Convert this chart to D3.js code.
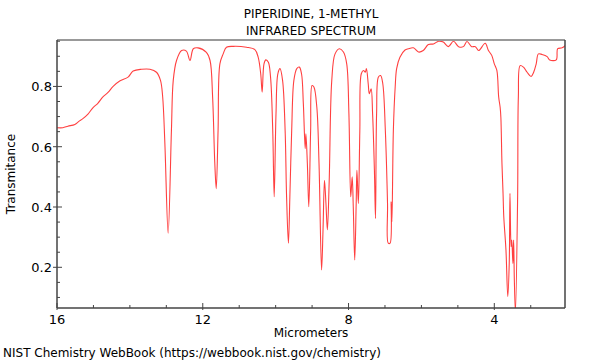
<html>
<head>
<style>
  body { margin: 0; background: #fff; }
  text { font-family: "DejaVu Sans", sans-serif; }
</style>
</head>
<body>
<script type="text/javascript" src="https://cdn.jsdelivr.net/npm/d3@7"></script>
<script type="text/javascript">

// spectrum: wavelength (micrometers) and transmitance
var microns = [16.00, 15.84, 15.70, 15.51, 15.40, 15.29, 15.15, 15.01, 14.88, 14.74, 14.60, 14.46, 14.28, 14.05, 13.91, 13.68, 13.45, 13.27, 13.16, 13.10, 13.04,
  12.95, 12.86, 12.81, 12.72, 12.58, 12.45, 12.35, 12.26, 12.13, 11.90, 11.80, 11.73, 11.67, 11.63, 11.58, 11.53,
  11.44, 11.35, 11.16, 10.80, 10.57, 10.48, 10.41, 10.37, 10.32, 10.27, 10.20, 10.14, 10.08, 10.04, 9.99, 9.94,
  9.88, 9.81, 9.74, 9.70, 9.65, 9.61, 9.56, 9.50, 9.42, 9.35, 9.29, 9.24, 9.19, 9.17, 9.13, 9.09,
  9.04, 9.00, 8.95, 8.87, 8.81, 8.74, 8.70, 8.66, 8.62, 8.58, 8.53, 8.46, 8.37, 8.25, 8.14, 8.05,
  7.99, 7.94, 7.90, 7.87, 7.83, 7.79, 7.77, 7.73, 7.69, 7.65, 7.59, 7.54, 7.51, 7.46, 7.43, 7.38,
  7.34, 7.29, 7.26, 7.23, 7.18, 7.12, 7.06, 6.99, 6.93, 6.91, 6.86, 6.83, 6.81, 6.77, 6.72, 6.68,
  6.59, 6.45, 6.36, 6.22, 6.08, 5.95, 5.81, 5.67, 5.53, 5.40, 5.26, 5.12, 4.98, 4.85, 4.75, 4.62,
  4.52, 4.43, 4.25, 4.16, 4.07, 4.00, 3.93, 3.88, 3.84, 3.82, 3.79, 3.76, 3.74, 3.68, 3.63, 3.59,
  3.57, 3.54, 3.52, 3.49, 3.47, 3.45, 3.42, 3.36, 3.34, 3.29, 3.20, 3.10, 2.99, 2.92, 2.85, 2.79,
  2.69, 2.55, 2.48, 2.30, 2.26, 2.14, 2.05];
var transmitance = [0.663, 0.663, 0.668, 0.674, 0.684, 0.693, 0.708, 0.730, 0.744, 0.765, 0.780, 0.800, 0.818, 0.831, 0.851, 0.857, 0.857, 0.847, 0.820, 0.765, 0.611,
  0.313, 0.654, 0.820, 0.886, 0.919, 0.917, 0.886, 0.925, 0.928, 0.913, 0.886, 0.765, 0.545, 0.461, 0.654, 0.875,
  0.908, 0.930, 0.933, 0.930, 0.922, 0.897, 0.842, 0.781, 0.875, 0.888, 0.880, 0.831, 0.654, 0.434, 0.711, 0.842,
  0.859, 0.820, 0.654, 0.434, 0.280, 0.434, 0.654, 0.820, 0.859, 0.864, 0.842, 0.743, 0.594, 0.643, 0.544, 0.401,
  0.654, 0.803, 0.798, 0.731, 0.545, 0.191, 0.324, 0.489, 0.412, 0.324, 0.489, 0.820, 0.908, 0.925, 0.914, 0.875,
  0.710, 0.434, 0.500, 0.401, 0.224, 0.412, 0.522, 0.412, 0.654, 0.842, 0.853, 0.847, 0.859, 0.809, 0.776, 0.792,
  0.710, 0.522, 0.362, 0.710, 0.831, 0.836, 0.809, 0.654, 0.412, 0.280, 0.280, 0.417, 0.351, 0.654, 0.798, 0.859,
  0.897, 0.921, 0.925, 0.928, 0.914, 0.919, 0.939, 0.941, 0.950, 0.947, 0.932, 0.950, 0.932, 0.932, 0.949, 0.932,
  0.932, 0.919, 0.943, 0.919, 0.903, 0.875, 0.853, 0.765, 0.731, 0.698, 0.544, 0.445, 0.368, 0.257, 0.103, 0.214,
  0.445, 0.268, 0.290, 0.213, 0.290, 0.158, 0.050, 0.434, 0.765, 0.869, 0.864, 0.847, 0.833, 0.847, 0.875, 0.908,
  0.906, 0.899, 0.888, 0.888, 0.925, 0.928, 0.936];

var xMajor = [16, 12, 8, 4];
var xMinor = [15, 14, 13, 11, 10, 9, 7, 6, 5, 3];
var yMajor = [0.2, 0.4, 0.6, 0.8];
var yMinor = [0.1, 0.15, 0.25, 0.3, 0.35, 0.45, 0.5, 0.55, 0.65, 0.7, 0.75, 0.85, 0.9, 0.95];

var pLeft = 57, pRight = 565, pTop = 40, pBottom = 308;

var svg = d3.select("body")
  .append("svg")
  .attr("width", 600)
  .attr("height", 360);

var x = d3.scaleLinear().domain([16, 2.06]).range([pLeft, pRight]);
var y = d3.scaleLinear().domain([0.065, 0.954]).range([pBottom, pTop]);

svg.append("clipPath").attr("id", "plot")
  .append("rect").attr("x", pLeft).attr("y", pTop).attr("width", pRight - pLeft).attr("height", pBottom - pTop);

var points = microns.map(function(m, i) { return [m, transmitance[i]]; });

svg.append("path")
  .datum(points)
  .attr("clip-path", "url(#plot)")
  .attr("fill", "none")
  .attr("stroke", "#ff0000")
  .attr("stroke-opacity", 0.75)
  .attr("stroke-width", 1.1)
  .attr("stroke-linejoin", "round")
  .attr("d", d3.line().curve(d3.curveCatmullRom.alpha(0.5))
    .x(function(d) { return x(d[0]); }).y(function(d) { return y(d[1]); }));

// frame
svg.append("line").attr("x1", pLeft).attr("x2", pRight).attr("y1", pTop).attr("y2", pTop)
  .attr("stroke", "#999").attr("stroke-width", 2);
svg.append("line").attr("x1", pRight).attr("x2", pRight).attr("y1", pTop).attr("y2", pBottom)
  .attr("stroke", "#444").attr("stroke-width", 1.5);
svg.append("line").attr("x1", pLeft).attr("x2", pRight).attr("y1", pBottom).attr("y2", pBottom)
  .attr("stroke", "#444").attr("stroke-width", 1.5);
svg.append("line").attr("x1", pLeft).attr("x2", pLeft).attr("y1", pTop).attr("y2", pBottom)
  .attr("stroke", "#444").attr("stroke-width", 1.5);

// x ticks
svg.selectAll(".xmaj").data(xMajor).enter().append("line")
  .attr("x1", x).attr("x2", x).attr("y1", pBottom - 5).attr("y2", pBottom + 2)
  .attr("stroke", "#444");
svg.selectAll(".xmin").data(xMinor).enter().append("line")
  .attr("x1", x).attr("x2", x).attr("y1", pBottom - 3).attr("y2", pBottom)
  .attr("stroke", "#444");
svg.selectAll(".xlab").data(xMajor).enter().append("text")
  .attr("x", x).attr("y", pBottom + 16)
  .attr("text-anchor", "middle").attr("font-size", 13)
  .text(function(d) { return d; });

// y ticks
svg.selectAll(".ymaj").data(yMajor).enter().append("line")
  .attr("x1", pLeft - 4).attr("x2", pLeft + 5).attr("y1", y).attr("y2", y)
  .attr("stroke", "#444");
svg.selectAll(".ymin").data(yMinor).enter().append("line")
  .attr("x1", pLeft).attr("x2", pLeft + 3).attr("y1", y).attr("y2", y)
  .attr("stroke", "#444");
svg.selectAll(".ylab").data(yMajor).enter().append("text")
  .attr("x", pLeft - 5).attr("y", function(d) { return y(d) + 5; })
  .attr("text-anchor", "end").attr("font-size", 13)
  .text(function(d) { return d.toFixed(1); });

// titles
svg.append("text").attr("x", 311).attr("y", 18).attr("text-anchor", "middle")
  .attr("font-size", 12).text("PIPERIDINE, 1-METHYL");
svg.append("text").attr("x", 311).attr("y", 35).attr("text-anchor", "middle")
  .attr("font-size", 12).text("INFRARED SPECTRUM");
svg.append("text").attr("x", 311).attr("y", 337).attr("text-anchor", "middle")
  .attr("font-size", 12).text("Micrometers");
svg.append("text").attr("transform", "translate(15,174) rotate(-90)").attr("text-anchor", "middle")
  .attr("font-size", 12).text("Transmitance");
svg.append("text").attr("x", 3).attr("y", 357)
  .attr("font-size", 12).text("NIST Chemistry WebBook (https://webbook.nist.gov/chemistry)");

</script>
</body>
</html>
